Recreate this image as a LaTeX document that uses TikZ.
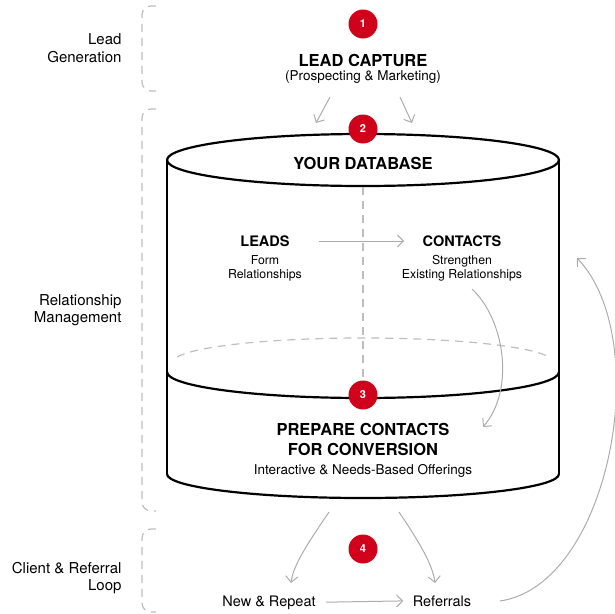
\documentclass[tikz,border=0pt]{standalone}
\usepackage{fontspec}
\setmainfont{TeX Gyre Heros}
\usetikzlibrary{arrows.meta}

\definecolor{cccerise}{RGB}{208,2,27}
\definecolor{ccgris}{RGB}{172,172,172}
\definecolor{ccperle}{RGB}{190,190,190}

\begin{document}
\begin{tikzpicture}[x=1pt, y=-1pt,
  num/.style={circle, fill=cccerise, text=white, inner sep=0pt, minimum size=29pt, font=\fontsize{11}{11}\selectfont\bfseries},
  titre/.style={font=\fontsize{16.5}{20}\selectfont\bfseries, align=center},
  soustitre/.style={font=\fontsize{14.5}{17}\selectfont\bfseries},
  issue/.style={font=\fontsize{14.5}{17}\selectfont, anchor=base},
  note/.style={font=\fontsize{12.3}{14}\selectfont, align=center},
  grandenote/.style={font=\fontsize{13.5}{16}\selectfont, align=center},
  phase/.style={font=\fontsize{15}{17.5}\selectfont, align=right, anchor=east},
  fleche/.style={draw=ccgris, line width=1pt, -{Straight Barb[length=6pt, width=12pt]}},
  cuve/.style={line width=2.2pt, black},
  pointille/.style={draw=ccperle, line width=1.2pt, dash pattern=on 8pt off 6pt},
  accolade/.style={pointille, rounded corners=9pt}]

  % Bounding box of the scheme
  \useasboundingbox (0,0) rectangle (614,614) ;

  %%%%%%%%%%%%%%%%%%%%%%%%%%%%%%%%% Phases on the left %%%%%%%%%%%%%%%%%%%%%%%%%%%%%%%%%%%%
  \draw[accolade] (156,6) -- (142,6) -- (142,91) -- (156,91) ;
  \draw[accolade] (156,109) -- (142,109) -- (142,511) -- (156,511) ;
  \draw[accolade] (156,529) -- (142,529) -- (142,612) -- (156,612) ;

  \draw (125,48) node[phase] (pgen) {Lead\\Generation} ;
  \draw (125,310) node[phase] (prel) {Relationship\\Management} ;
  \draw (125,578) node[phase] (ploop) {Client \& Referral\\Loop} ;

  %%%%%%%%%%%%%%%%%%%%%%%%%%%%%%%%% The database cylinder %%%%%%%%%%%%%%%%%%%%%%%%%%%%%%%%%%%%
  \draw[cuve] (363,160) ellipse [x radius=196, y radius=26] ;
  \draw[cuve] (167,160) -- (167,474) ;
  \draw[cuve] (559,160) -- (559,474) ;
  \draw[cuve] (167,372) arc [start angle=180, end angle=0, x radius=196, y radius=26] ;
  \draw[cuve] (167,474) arc [start angle=180, end angle=0, x radius=196, y radius=24] ;
  \draw[pointille, shift={(363,362)}] (192:190 and 24) arc [start angle=192, end angle=348, x radius=190, y radius=24] ;

  %%%%%%%%%%%%%%%%%%%%%%%%%%%%%%%%% Steps %%%%%%%%%%%%%%%%%%%%%%%%%%%%%%%%%%%%
  \draw (363,24) node[num] (n1) {1} ;
  \draw (363,129) node[num] (n2) {2} ;
  \draw (363,395) node[num] (n3) {3} ;
  \draw (363,549) node[num] (n4) {4} ;

  \draw (363,60) node[titre] (capture) {LEAD CAPTURE} ;
  \draw (363,77) node[grandenote] (capturesub) {(Prospecting \& Marketing)} ;
  \draw (363,163) node[titre] (database) {YOUR DATABASE} ;

  \draw (265,241) node[soustitre] (leads) {LEADS} ;
  \draw (265,268) node[note] (leadssub) {Form\\Relationships} ;
  \draw (462,241) node[soustitre] (contacts) {CONTACTS} ;
  \draw (462,268) node[note] (contactssub) {Strengthen\\Existing Relationships} ;

  \draw (363,439) node[titre] (prepare) {PREPARE CONTACTS\\FOR CONVERSION} ;
  \draw (363,471) node[grandenote] (preparesub) {Interactive \& Needs-Based Offerings} ;

  \draw (269,606) node[issue] (newrepeat) {New \& Repeat} ;
  \draw (442,606) node[issue] (referrals) {Referrals} ;

  %%%%%%%%%%%%%%%%%%%%%%%%%%%%%%%%% Flows %%%%%%%%%%%%%%%%%%%%%%%%%%%%%%%%%%%%
  % free ends
  \coordinate (capl) at (330,97) ;
  \coordinate (capr) at (400,97) ;
  \coordinate (inl) at (316,123) ;
  \coordinate (inr) at (412,123) ;
  \coordinate (dbl) at (363,187) ;
  \coordinate (contout) at (472,289) ;
  \coordinate (prepin) at (483,427) ;
  \coordinate (outl) at (329,512) ;
  \coordinate (outr) at (399,512) ;
  \coordinate (refout) at (500,601) ;
  \coordinate (loopin) at (577,258) ;

  \draw[pointille] (dbl) -- (n3.north) ;

  \draw[fleche] (capl) -- (inl) ;
  \draw[fleche] (capr) -- (inr) ;
  \draw[fleche, shorten <=26pt, shorten >=15pt] (leads.east) -- (contacts.west) ;
  \draw[fleche] (contout) .. controls (505,320) and (515,390) .. (prepin) ;
  \draw[fleche] (outl) .. controls (310,540) and (293,565) .. (291,583) ;
  \draw[fleche] (outr) .. controls (418,540) and (433,565) .. (435,583) ;
  \draw[fleche, shorten <=7pt, shorten >=6pt] (newrepeat.east) -- (referrals.west) ;
  \draw[fleche] (refout) .. controls (610,585) and (655,340) .. (loopin) ;

\end{tikzpicture}
\end{document}
